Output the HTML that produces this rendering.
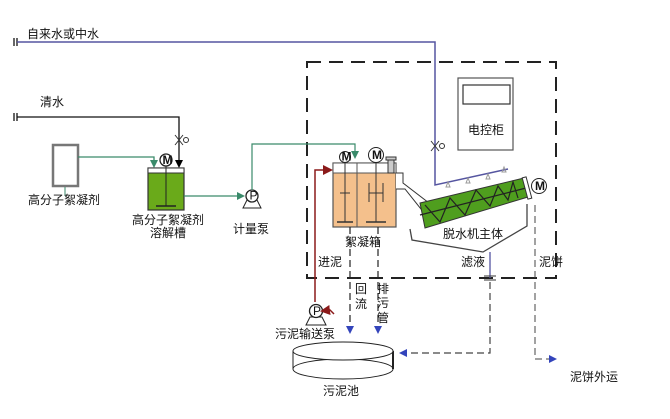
<!DOCTYPE html>
<html><head><meta charset="utf-8"><style>
body{margin:0;background:#fff}
svg{display:block}
text{font-family:"Liberation Sans","Noto Sans CJK SC",sans-serif;font-size:12px;fill:#111}
</style></head><body>
<svg width="670" height="419" viewBox="0 0 670 419" xmlns="http://www.w3.org/2000/svg">
<defs>
<marker id="bl" markerWidth="8" markerHeight="8" refX="6" refY="4" orient="auto" markerUnits="userSpaceOnUse"><path d="M0,0L8,4L0,8z" fill="#3344bb"/></marker>
<marker id="gr" markerWidth="8" markerHeight="8" refX="6" refY="4" orient="auto" markerUnits="userSpaceOnUse"><path d="M0,0L8,4L0,8z" fill="#3a8a6a"/></marker>
<marker id="rd" markerWidth="10" markerHeight="10" refX="8" refY="5" orient="auto" markerUnits="userSpaceOnUse"><path d="M0,0L10,5L0,10z" fill="#8b1a1a"/></marker>
<marker id="bk" markerWidth="8" markerHeight="8" refX="6" refY="4" orient="auto" markerUnits="userSpaceOnUse"><path d="M0,0L8,4L0,8z" fill="#000"/></marker>
</defs>
<!-- dashed box -->
<rect x="307" y="62" width="249" height="216" fill="none" stroke="#222" stroke-width="2" stroke-dasharray="14,8"/>
<!-- top blue line -->
<line x1="14" y1="38" x2="14" y2="46" stroke="#333" stroke-width="1.5"/><line x1="17" y1="38" x2="17" y2="46" stroke="#333" stroke-width="1.5"/>
<polyline points="17,42 435,42 435,185 508,169" fill="none" stroke="#5555a0" stroke-width="1.5"/>
<text x="27" y="38">自来水或中水</text>
<path d="M431,141L439,151M431,151L439,141" stroke="#333" fill="none"/><circle cx="442" cy="146" r="2.5" fill="#fff" stroke="#333"/>
<g fill="none" stroke="#999"><path d="M446,187l2,-5 2,5z"/><path d="M466,183l2,-5 2,5z"/><path d="M486,179l2,-5 2,5z"/><path d="M502,172l2,-5 2,5z"/></g>
<!-- control cabinet -->
<rect x="458" y="78" width="55" height="72" fill="#fff" stroke="#555" stroke-width="1.2"/>
<rect x="463" y="85" width="47" height="19" fill="#fff" stroke="#333" stroke-width="1.2"/>
<text x="468" y="134" font-size="13">电控柜</text>
<!-- 清水 -->
<line x1="14" y1="113" x2="14" y2="121" stroke="#333" stroke-width="1.5"/><line x1="17" y1="113" x2="17" y2="121" stroke="#333" stroke-width="1.5"/>
<polyline points="17,117 179,117 179,166" fill="none" stroke="#111" stroke-width="1.3" marker-end="url(#bk)"/>
<text x="40" y="106" font-size="13">清水</text>
<path d="M175,135L183,145M175,145L183,135" stroke="#333" fill="#fff"/><circle cx="186" cy="140" r="2.5" fill="#fff" stroke="#333"/>
<!-- reagent -->
<rect x="53" y="145" width="25" height="41" fill="#fff" stroke="#777" stroke-width="2.5"/>
<line x1="65" y1="187" x2="65" y2="196" stroke="#3a8a6a"/>
<text x="28" y="204" font-size="13">高分子絮凝剂</text>
<polyline points="78,157 154,157 154,166" fill="none" stroke="#3a8a6a" stroke-width="1.3" marker-end="url(#gr)"/>
<circle cx="166" cy="160" r="6" fill="#fff" stroke="#222" stroke-width="1.3"/><text x="162.5" y="164" font-size="8" font-weight="bold">M</text>
<rect x="148" y="168" width="36" height="42" fill="#6aaa1a" stroke="#333" stroke-width="1.2"/>
<rect x="148" y="168" width="36" height="5" fill="#fff" stroke="#333"/>
<line x1="166" y1="166" x2="166" y2="206" stroke="#222"/><line x1="156" y1="206" x2="176" y2="206" stroke="#222" stroke-width="1.5"/>
<text x="132" y="224">高分子絮凝剂</text><text x="150" y="237">溶解槽</text>
<line x1="184" y1="196" x2="243" y2="196" stroke="#3a8a6a" stroke-width="1.3" marker-end="url(#gr)"/>
<!-- metering pump -->
<path d="M243,208L247,200L257,200L261,208z" fill="#fff" stroke="#222"/>
<circle cx="252" cy="196" r="6" fill="#fff" stroke="#222" stroke-width="1.3"/><text x="249.5" y="199.5" font-size="8">P</text>
<text x="233" y="233" font-size="13">计量泵</text>
<polyline points="252,190 252,144 355,144 355,157" fill="none" stroke="#3a8a6a" stroke-width="1.2" marker-end="url(#gr)"/>
<!-- flocculation box -->
<rect x="333" y="163" width="63" height="64" fill="#f4c08c" stroke="#555" stroke-width="1.2"/>
<rect x="333" y="163" width="63" height="10" fill="#fff" stroke="#555"/>
<line x1="357" y1="163" x2="357" y2="227" stroke="#555"/>
<line x1="345" y1="162" x2="345" y2="222" stroke="#333"/><line x1="337" y1="222" x2="353" y2="222" stroke="#333" stroke-width="1.5"/><line x1="340" y1="193" x2="350" y2="193" stroke="#333"/>
<line x1="376" y1="162" x2="376" y2="222" stroke="#333"/><line x1="366" y1="222" x2="386" y2="222" stroke="#333" stroke-width="1.5"/>
<line x1="369" y1="183" x2="369" y2="202" stroke="#333"/><line x1="383" y1="183" x2="383" y2="202" stroke="#333"/><line x1="369" y1="193" x2="383" y2="193" stroke="#333"/>
<circle cx="345" cy="157" r="5.5" fill="#fff" stroke="#222"/><text x="341.5" y="160.5" font-size="7" font-weight="bold">M</text>
<circle cx="376" cy="155" r="7.5" fill="#fff" stroke="#222"/><text x="372" y="159" font-size="8" font-weight="bold">M</text>
<rect x="388" y="160" width="6" height="13" fill="#ccc" stroke="#333"/><rect x="386" y="157" width="10" height="3" fill="#ccc" stroke="#333"/>
<path d="M396,173L403,173L403,183L429,203L421,209L405,189L396,189" fill="#fff" stroke="#333"/>
<text x="345" y="246" font-size="13">絮凝箱</text>
<!-- screw -->
<polygon points="420,203 524,178 528,197 425,228" fill="#4f9e1e" stroke="#333"/>
<path d="M420,215L526,188M425,205L440,222L450,198L465,215L476,190L490,206L498,186L508,200L513,182L518,198" fill="none" stroke="#222" stroke-width="1.2"/>
<rect x="525" y="177" width="4" height="22" fill="#fff" stroke="#333" transform="rotate(-15 527 188)"/>
<circle cx="539" cy="186" r="7.5" fill="#fff" stroke="#222"/><text x="535" y="190" font-size="8" font-weight="bold">M</text>
<polyline points="410,229 412,240 483,252 527,226 527,204" fill="none" stroke="#444" stroke-width="1.3"/>
<text x="443" y="238" font-size="13">脱水机主体</text>
<text x="461" y="266" font-size="13">滤液</text>
<text x="539" y="266" font-size="13">泥饼</text>
<line x1="490" y1="252" x2="490" y2="278" stroke="#5555a0" stroke-width="1.3"/>
<line x1="484" y1="276" x2="496" y2="276" stroke="#333"/><line x1="484" y1="280" x2="496" y2="280" stroke="#333"/>
<polyline points="490,282 490,353 401,353" fill="none" stroke="#444" stroke-width="1.2" stroke-dasharray="7,4" marker-end="url(#bl)"/>
<polyline points="535,205 535,359 555,359" fill="none" stroke="#444" stroke-width="1" stroke-dasharray="7,4" marker-end="url(#bl)"/>
<text x="570" y="381" font-size="13">泥饼外运</text>
<!-- sludge feed -->
<polyline points="315,302 315,170 331,170" fill="none" stroke="#8b1a1a" stroke-width="1.5" marker-end="url(#rd)"/>
<text x="318" y="266" font-size="13">进泥</text>
<line x1="350" y1="227" x2="350" y2="332" stroke="#222" stroke-width="1.2" stroke-dasharray="7,4" marker-end="url(#bl)"/>
<line x1="378" y1="227" x2="378" y2="332" stroke="#222" stroke-width="1.2" stroke-dasharray="7,4" marker-end="url(#bl)"/>
<text x="355" y="293" font-size="10">回</text><text x="355" y="308" font-size="10">流</text>
<text x="377" y="293" font-size="10">排</text><text x="377" y="307" font-size="10">污</text><text x="377" y="322" font-size="10">管</text>
<!-- sludge pump -->
<path d="M306,325L310,317L322,317L326,325z" fill="#fff" stroke="#222"/>
<circle cx="316" cy="311" r="6.5" fill="#fff" stroke="#222" stroke-width="1.3"/><text x="313" y="315" font-size="8">P</text>
<polyline points="334,314 330,310 322,311" fill="none" stroke="#8b1a1a" stroke-width="1.5" marker-end="url(#rd)"/>
<text x="275" y="338" font-size="13">污泥输送泵</text>
<!-- pool -->
<ellipse cx="343" cy="369" rx="50" ry="10" fill="#fff" stroke="#222"/>
<line x1="293" y1="351" x2="293" y2="369" stroke="#222"/><line x1="393" y1="351" x2="393" y2="369" stroke="#222" stroke-width="2"/>
<ellipse cx="343" cy="351" rx="50" ry="9" fill="#fff" stroke="#222"/>
<text x="323" y="395" font-size="13">污泥池</text>
</svg>
</body></html>
